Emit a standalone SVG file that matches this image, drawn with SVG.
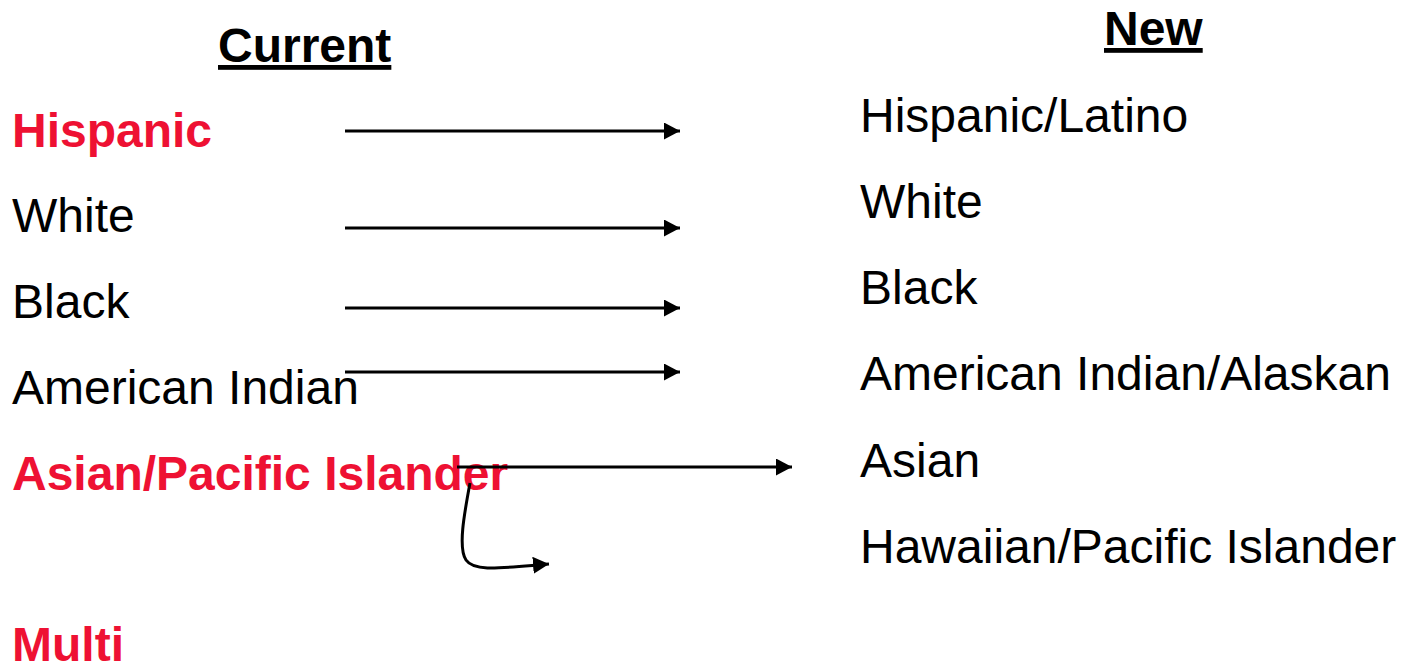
<svg xmlns="http://www.w3.org/2000/svg" width="1401" height="669" viewBox="0 0 1401 669">
<defs>
<style>
text{font-family:"Liberation Sans",Arial,sans-serif;font-size:48px;fill:#000}
.r{fill:#EE1133;font-weight:bold}
.h{font-weight:bold;text-decoration:underline}
.c{fill:none;stroke:#000;stroke-width:3}
</style>
<marker id="ah" markerWidth="17" markerHeight="17" refX="16" refY="8.5" orient="auto" markerUnits="userSpaceOnUse">
<path d="M0,0 L16,8.5 L0,17 Z" fill="#000"/>
</marker>
</defs>
<rect width="1401" height="669" fill="#fff"/>
<g id="hdr-current"><text class="h" x="218" y="62">Current</text></g>
<g id="hdr-new"><text class="h" x="1104" y="45">New</text></g>
<g id="cur-hispanic"><text class="r" x="12" y="147">Hispanic</text></g>
<g id="cur-white"><text x="12" y="232">White</text></g>
<g id="cur-black"><text x="12" y="318">Black</text></g>
<g id="cur-amind"><text x="12" y="404">American Indian</text></g>
<g id="cur-asian"><text class="r" x="12" y="490">Asian/Pacific Islander</text></g>
<g id="cur-multi"><text class="r" x="12" y="661">Multi</text></g>
<g id="new-hispanic"><text x="860" y="132">Hispanic/Latino</text></g>
<g id="new-white"><text x="860" y="218">White</text></g>
<g id="new-black"><text x="860" y="304">Black</text></g>
<g id="new-amind"><text x="860" y="390">American Indian/Alaskan</text></g>
<g id="new-asian"><text x="860" y="477">Asian</text></g>
<g id="new-hawaiian"><text x="860" y="563">Hawaiian/Pacific Islander</text></g>
<g id="connectors">
<line class="c" x1="345" y1="131" x2="680" y2="131" marker-end="url(#ah)"/>
<line class="c" x1="345" y1="228" x2="680" y2="228" marker-end="url(#ah)"/>
<line class="c" x1="345" y1="308" x2="680" y2="308" marker-end="url(#ah)"/>
<line class="c" x1="345" y1="372" x2="680" y2="372" marker-end="url(#ah)"/>
<line class="c" x1="457" y1="467" x2="792" y2="467" marker-end="url(#ah)"/>
<path class="c" d="M470,483 C464,515 458,548 466,560 C474,572 500,568 549,564" marker-end="url(#ah)"/>
</g>
</svg>
